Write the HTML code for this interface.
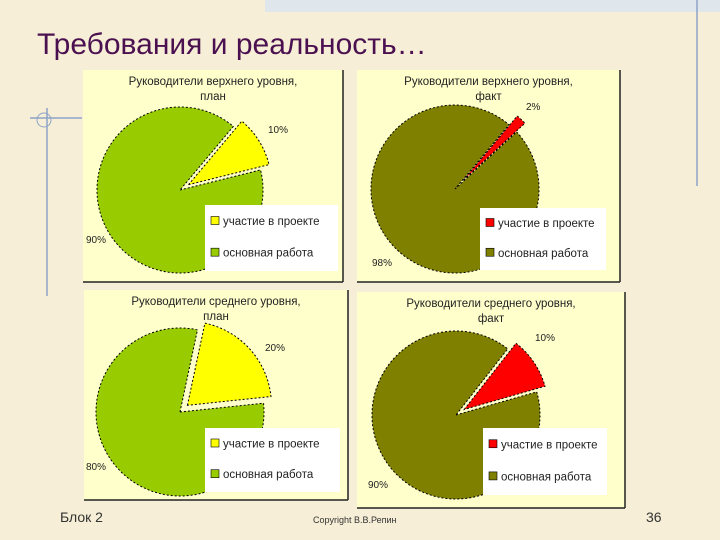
<!DOCTYPE html>
<html><head><meta charset="utf-8"><style>
body{margin:0;width:720px;height:540px;overflow:hidden;background:#f6eed6;font-family:"Liberation Sans",sans-serif;}
</style></head><body>
<svg id="s" width="720" height="540" xmlns="http://www.w3.org/2000/svg" style="position:absolute;left:0;top:0">
<rect x="265" y="0" width="455" height="12" fill="#dfe6ec"/>
<line x1="697" y1="0" x2="697" y2="186" stroke="#8ea4c8" stroke-width="1.5"/>
<line x1="47" y1="108" x2="47" y2="296" stroke="#8ea4c8" stroke-width="1.5"/>
<line x1="30" y1="118" x2="82" y2="118" stroke="#8ea4c8" stroke-width="1.5"/>
<circle cx="44" cy="120" r="7" fill="none" stroke="#8ea4c8"/>
<text x="37" y="54" font-size="30" fill="#4a1050">Требования и реальность…</text>
<g id="charts"></g>
<text x="60" y="522" font-size="14" fill="#333">Блок 2</text>
<text x="313" y="523" font-size="9" fill="#333">Copyright В.В.Репин</text>
<text x="646" y="522" font-size="14" fill="#333">36</text>
</svg>
<script>
const chartTitles=[["Руководители верхнего уровня,","план"],["Руководители верхнего уровня,","факт"],["Руководители среднего уровня,","план"],["Руководители среднего уровня,","факт"]];
const projectShare=[10,2,20,10];
const mainShare=[90,98,80,90];
const seriesNames=["участие в проекте","основная работа"];
const NS="http://www.w3.org/2000/svg";
const layout=[
 {px:83,py:70,pw:260,ph:212,cx:180,cy:190,r:83,ex:10,start:40,c1:"#ffff00",c2:"#99cc00",lx:205,ly:205,lw:133,lh:66,l1:[268,133],l2:[86,243]},
 {px:357,py:70,pw:263,ph:212,cx:455,cy:189,r:84,ex:12,start:40,c1:"#ff0000",c2:"#808000",lx:480,ly:208,lw:126,lh:62,l1:[526,110],l2:[372,266]},
 {px:84,py:290,pw:264,ph:210,cx:180,cy:412,r:84,ex:10,start:12,c1:"#ffff00",c2:"#99cc00",lx:205,ly:428,lw:135,lh:64,l1:[265,351],l2:[86,470]},
 {px:357,py:292,pw:268,ph:216,cx:456,cy:415,r:84,ex:10,start:38,c1:"#ff0000",c2:"#808000",lx:483,ly:428,lw:124,lh:67,l1:[535,341],l2:[368,488]}
];
const g=document.getElementById('charts');
function mk(t,a,p){const e=document.createElementNS(NS,t);for(const k in a)e.setAttribute(k,a[k]);(p||g).appendChild(e);return e;}
function pt(cx,cy,r,deg){const a=(deg-90)*Math.PI/180;return [cx+r*Math.cos(a),cy+r*Math.sin(a)];}
function wedge(cx,cy,r,a0,a1){const p0=pt(cx,cy,r,a0),p1=pt(cx,cy,r,a1);const large=(a1-a0)>180?1:0;return `M${cx},${cy}L${p0[0]},${p0[1]}A${r},${r} 0 ${large} 1 ${p1[0]},${p1[1]}Z`;}
layout.forEach((L,i)=>{
 const grp=mk('g',{});
 
 
 const bg=mk('rect',{x:L.px,y:L.py,width:L.pw,height:L.ph,fill:"#ffffcc"},grp);
 
 
 mk('line',{x1:L.px,y1:L.py+L.ph,x2:L.px+L.pw,y2:L.py+L.ph,stroke:"#222","stroke-width":1.5},grp);
 mk('line',{x1:L.px+L.pw,y1:L.py,x2:L.px+L.pw,y2:L.py+L.ph,stroke:"#222","stroke-width":1.5},grp);
 chartTitles[i].forEach((t,j)=>{const e=mk('text',{x:L.px+L.pw/2,y:L.py+15+j*15,"font-size":11.5,"text-anchor":"middle",fill:"#222"},grp);e.textContent=t;
  
  });
 const total=projectShare[i]+mainShare[i];
 const a0=L.start,a1=L.start+projectShare[i]/total*360;
 const mid=(a0+a1)/2;const off=pt(0,0,L.ex,mid);
 const s2=mk('path',{d:wedge(L.cx,L.cy,L.r,a1,a0+360),fill:L.c2,stroke:"#000","stroke-dasharray":"2,2","stroke-width":1},grp);
 
 
 const s1=mk('path',{d:wedge(L.cx+off[0],L.cy+off[1],L.r,a0,a1),fill:L.c1,stroke:"#000","stroke-dasharray":"2,2","stroke-width":1},grp);
 
 
 const t1=mk('text',{x:L.l1[0],y:L.l1[1],"font-size":10,fill:"#222"},grp);t1.textContent=projectShare[i]+"%";
 
 
 const t2=mk('text',{x:L.l2[0],y:L.l2[1],"font-size":10,fill:"#222"},grp);t2.textContent=mainShare[i]+"%";
 
 
 const lg=mk('g',{},grp);
 
 
 mk('rect',{x:L.lx,y:L.ly,width:L.lw,height:L.lh,fill:"#fff"},lg);
 [L.c1,L.c2].forEach((c,j)=>{const yy=L.ly+L.lh*(j?0.73:0.25);
  const e=mk('g',{},lg);
  
  
  mk('rect',{x:L.lx+6,y:yy-5,width:8,height:8,fill:c,stroke:"#000","stroke-width":0.6},e);
  const t=mk('text',{x:L.lx+18,y:yy+3.5,"font-size":11.5,fill:"#222"},e);t.textContent=seriesNames[j];});
});
</script>
</body></html>
